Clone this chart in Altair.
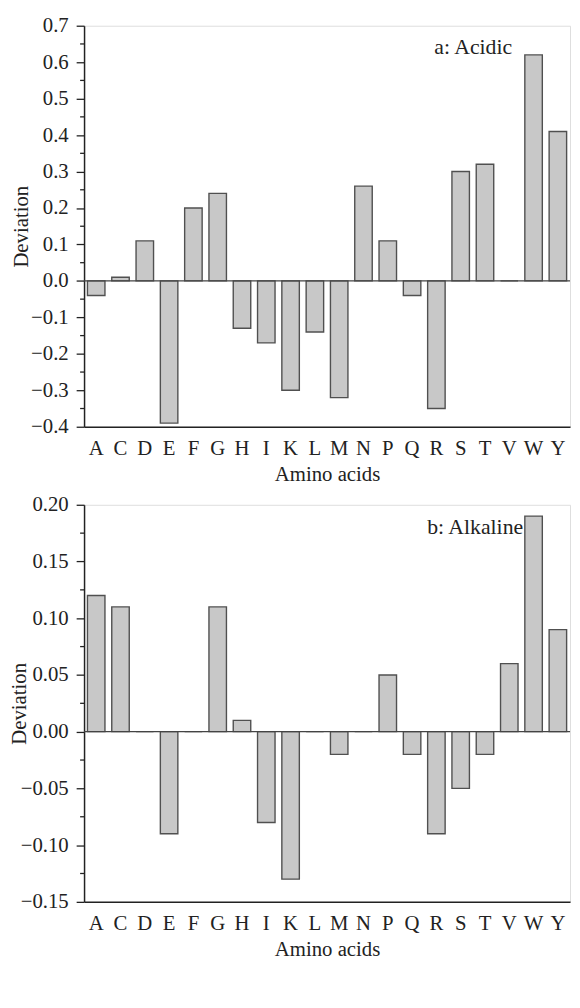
import altair as alt
import pandas as pd

FONT = "Liberation Serif"
TXT = "#222222"

amino = ["A", "C", "D", "E", "F", "G", "H", "I", "K", "L",
         "M", "N", "P", "Q", "R", "S", "T", "V", "W", "Y"]
acidic = [-0.04, 0.01, 0.11, -0.39, 0.20, 0.24, -0.13, -0.17, -0.30, -0.14,
          -0.32, 0.26, 0.11, -0.04, -0.35, 0.30, 0.32, 0.0, 0.62, 0.41]
alkaline = [0.12, 0.11, 0.0, -0.09, 0.0, 0.11, 0.01, -0.08, -0.13, 0.0,
            -0.02, 0.0, 0.05, -0.02, -0.09, -0.05, -0.02, 0.06, 0.19, 0.09]

major_a = [-0.4, -0.3, -0.2, -0.1, 0.0, 0.1, 0.2, 0.3, 0.4, 0.5, 0.6, 0.7]
minor_a = [-0.35, -0.25, -0.15, -0.05, 0.05, 0.15, 0.25, 0.35, 0.45, 0.55, 0.65]
major_b = [-0.15, -0.1, -0.05, 0.0, 0.05, 0.1, 0.15, 0.2]
minor_b = [-0.125, -0.075, -0.025, 0.025, 0.075, 0.125, 0.175]


def panel(values, domain, major, minor, fmt, label, width, height, lx, ly,
          title_x):
    df = pd.DataFrame({"aa": amino, "dev": values})
    yscale = alt.Scale(domain=domain, nice=False, zero=False)

    def yaxis():
        return alt.Axis(values=major, format=fmt, grid=False,
                        tickSize=8, tickColor=TXT, tickWidth=1.3,
                        domainColor=TXT, domainWidth=1.5,
                        labelFont=FONT, labelFontSize=21, labelColor=TXT,
                        labelPadding=8,
                        titleFont=FONT, titleFontSize=21,
                        titleFontWeight="normal", titleColor=TXT,
                        titleX=title_x)

    bars = alt.Chart(df).mark_bar(
        fill="#c8c8c8", stroke="#505050", strokeWidth=1.4
    ).encode(
        x=alt.X("aa:N", sort=amino, title="Amino acids",
                scale=alt.Scale(paddingInner=0.28, paddingOuter=0.14),
                axis=alt.Axis(labelAngle=0, ticks=False, domainColor=TXT,
                              domainWidth=1.5, labelFont=FONT, labelFontSize=21,
                              labelColor=TXT, labelPadding=11,
                              titleFont=FONT, titleFontSize=21,
                              titleFontWeight="normal", titleColor=TXT,
                              titlePadding=5)),
        y=alt.Y("dev:Q", title="Deviation", scale=yscale, axis=yaxis())
    )
    minor_ticks = alt.Chart(pd.DataFrame({"dev": minor})).mark_rule(
        color=TXT, strokeWidth=1.3
    ).encode(y=alt.Y("dev:Q", title="Deviation", scale=yscale, axis=yaxis()),
             x=alt.value(0), x2=alt.value(-4))
    zero = alt.Chart(pd.DataFrame({"dev": [0.0]})).mark_rule(
        color="#444444", strokeWidth=1.3
    ).encode(y=alt.Y("dev:Q", title="Deviation", scale=yscale, axis=yaxis()))
    text = alt.Chart(pd.DataFrame({"t": [label]})).mark_text(
        font=FONT, fontSize=22, color=TXT
    ).encode(x=alt.value(lx), y=alt.value(ly), text="t:N")
    return alt.layer(bars, minor_ticks, zero, text).properties(
        width=width, height=height)


top = panel(acidic, [-0.4, 0.7], major_a, minor_a, ".1f", "a: Acidic",
            492, 406, 394, 22, -53)
bottom = panel(alkaline, [-0.15, 0.2], major_b, minor_b, ".2f", "b: Alkaline",
               492, 402, 396, 23, -55)

chart = alt.vconcat(top, bottom, spacing=8).properties(
    padding={"top": 0, "left": 0, "right": 0, "bottom": 0}
).configure_view(stroke="transparent", strokeWidth=0).configure(
    background="white")

chart.save("out.html", embed_options={"renderer": "svg", "actions": False})
